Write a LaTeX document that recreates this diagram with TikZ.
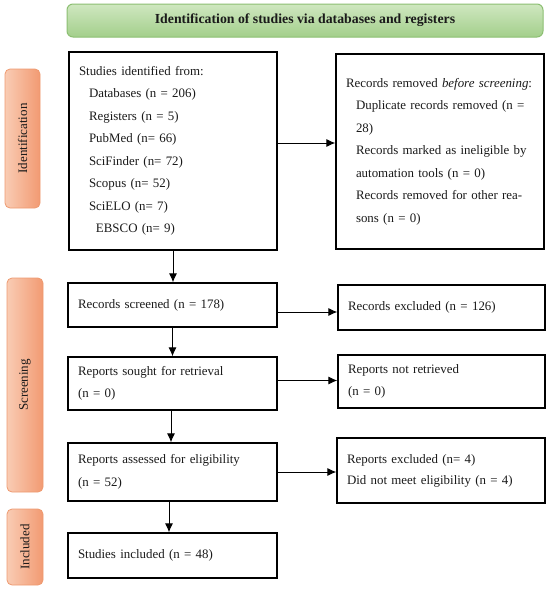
\documentclass[tikz,border=0pt]{standalone}
\usepackage{fontspec}
\setmainfont{Liberation Serif}
\usetikzlibrary{arrows.meta,calc}
\definecolor{grtop}{HTML}{CFE7C0}
\definecolor{grbot}{HTML}{A3CF8B}
\definecolor{grdraw}{HTML}{8CBF72}
\definecolor{orl}{HTML}{F9CCB4}
\definecolor{orr}{HTML}{F29A72}
\definecolor{ordraw}{HTML}{EE9A70}
\definecolor{ink}{HTML}{1A1A1A}
\tikzset{
  box/.style={draw=black, line width=1.3pt, fill=white, align=left, inner xsep=10pt, inner ysep=0pt,
    text=ink, font=\fontsize{12.9}{22.5}\selectfont},
  side/.style={draw=ordraw, line width=0.8pt, rounded corners=5pt, left color=orl, right color=orr,
    inner sep=0pt},
  sidetext/.style={rotate=90, text=ink, font=\fontsize{13}{14}\selectfont},
  hdr/.style={draw=grdraw, line width=1pt, rounded corners=6pt, top color=grtop, bottom color=grbot,
    inner sep=0pt, text=ink, font=\fontsize{13.8}{14}\selectfont\bfseries},
  arr/.style={-{Latex[length=9pt,width=8pt]}, line width=0.9pt}
}
\newcommand{\ind}{\hspace*{10pt}}
\begin{document}
\begin{tikzpicture}[x=1pt,y=-1pt]
\useasboundingbox (0,0) rectangle (550,590);
\node[hdr, minimum width=476pt, minimum height=33pt] (hd) at (305,20.5) {Identification of studies via databases and registers};

\node[side, minimum width=35pt, minimum height=139pt] (l1) at (22.5,138.5) {};
\node[sidetext] (t1) at (l1.center) {Identification};
\node[side, minimum width=36pt, minimum height=214pt] (l2) at (25,385) {};
\node[sidetext] (t2) at (l2.center) {Screening};
\node[side, minimum width=36pt, minimum height=76pt] (l3) at (25,547) {};
\node[sidetext] (t3) at (l3.center) {Included};

\node[box, text width=188pt, minimum height=198pt] (s1) at (173,151) {Studies identified from:\\
\ind Databases (n = 206)\\
\ind Registers (n = 5)\\
\ind PubMed (n= 66)\\
\ind SciFinder (n= 72)\\
\ind Scopus (n= 52)\\
\ind SciELO (n= 7)\\
\ind\hspace*{7pt}EBSCO (n= 9)};

\node[box, text width=188pt, inner xsep=10pt, minimum height=195pt] (r1) at (440,151.5) {Records removed \textit{before screening}:\\
\ind Duplicate records removed (n =\\
\ind 28)\\
\ind Records marked as ineligible by\\
\ind automation tools (n = 0)\\
\ind Records removed for other rea-\\
\ind sons (n = 0)};

\node[box, text width=189pt, minimum height=44pt] (s2) at (172.5,305) {Records screened (n = 178)};
\node[box, text width=187pt, minimum height=45pt] (r2) at (441.5,307.5) {Records excluded (n = 126)};

\node[box, text width=189pt, minimum height=53pt] (s3) at (172.5,383.5) {Reports sought for retrieval\\(n = 0)};
\node[box, text width=187pt, minimum height=53pt] (r3) at (441.5,381.5) {Reports not retrieved\\(n = 0)};

\node[box, text width=189pt, minimum height=58pt] (s4) at (172.5,472) {Reports assessed for eligibility\\(n = 52)};
\node[box, text width=188pt, minimum height=65pt, font=\fontsize{12.9}{21}\selectfont] (r4) at (441,470.5) {Reports excluded (n= 4)\\Did not meet eligibility (n = 4)};

\node[box, text width=189pt, minimum height=45pt] (s5) at (172.5,555.5) {Studies included (n = 48)};

\draw[arr] ([yshift=8pt]s1.east) -- ([yshift=8pt]s1.east -| r1.west);
\draw[arr] ([yshift=-7pt]s2.east) -- ([yshift=-7pt]s2.east -| r2.west);
\draw[arr] ([yshift=3pt]s3.east) -- ([yshift=3pt]s3.east -| r3.west);
\draw[arr] (s4.east) -- (s4.east -| r4.west);
\draw[arr] (s1.south) -- (s1.south |- s2.north);
\draw[arr] (s2.south) -- (s3.north);
\draw[arr] ([xshift=-1.5pt]s3.south) -- ([xshift=-1.5pt]s4.north);
\draw[arr] ([xshift=-3.5pt]s4.south) -- ([xshift=-3.5pt]s5.north);
\end{tikzpicture}
\end{document}
